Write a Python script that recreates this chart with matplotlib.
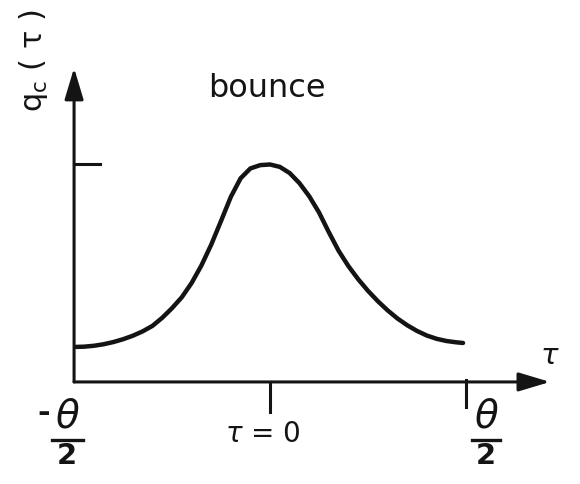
import matplotlib
matplotlib.use("Agg")
import matplotlib.pyplot as plt

plt.rcParams['font.family'] = ['DejaVu Sans']
plt.rcParams['mathtext.fontset'] = 'dejavusans'

# bounce profile q_c(tau), tau in units of theta/2, q normalised to its peak
tau = [-0.99, -0.95, -0.9, -0.85, -0.8, -0.75, -0.7, -0.65, -0.6, -0.55,
       -0.5, -0.45, -0.4, -0.35, -0.3, -0.25, -0.2, -0.15, -0.1, -0.05,
       0.0, 0.05, 0.1, 0.15, 0.2, 0.25, 0.3, 0.35, 0.4, 0.45,
       0.5, 0.55, 0.6, 0.65, 0.7, 0.75, 0.8, 0.85, 0.9, 0.95, 0.985]
q = [0.160, 0.161, 0.165, 0.172, 0.182, 0.195, 0.211, 0.231, 0.256, 0.293,
     0.337, 0.387, 0.452, 0.532, 0.627, 0.735, 0.845, 0.930, 0.975, 0.990,
     0.993, 0.982, 0.954, 0.908, 0.848, 0.774, 0.684, 0.599, 0.529, 0.469,
     0.416, 0.369, 0.327, 0.290, 0.259, 0.233, 0.212, 0.197, 0.187, 0.181, 0.178]
q_peak = max(q)
tau_ticks = [0.0, 1.0]

ink = '#141414'

fig = plt.figure(figsize=(5.8, 4.84), dpi=100)
ax = fig.add_axes([0, 0, 1, 1])
ax.set_xlim(-1.378, 1.582)
ax.set_ylim(-0.466, 1.744)
ax.axis('off')

# axes with arrow heads
arrow = dict(arrowstyle='-|>,head_length=1.2,head_width=0.36', mutation_scale=16,
             lw=2.2, color=ink, shrinkA=0, shrinkB=0)
ax.annotate('', xy=(-1.0, 1.434), xytext=(-1.0, 0.0), arrowprops=arrow)
ax.annotate('', xy=(1.429, 0.0), xytext=(-1.0, 0.0), arrowprops=arrow)

# ticks
ax.plot([-1.0, -0.867], [q_peak, q_peak], color=ink, lw=2.2)
ax.plot([tau_ticks[0]] * 2, [0, -0.137], color=ink, lw=2.2)
ax.plot([tau_ticks[1]] * 2, [0.01, -0.115], color=ink, lw=2.2)

# the bounce
ax.plot(tau, q, color=ink, lw=3.2, solid_capstyle='round', solid_joinstyle='round')

ax.text(-0.015, 1.301, 'bounce', fontsize=23, ha='center', va='baseline', color=ink)
ax.text(-1.209, 1.466, r'q$_{\mathrm{c}}$ ( τ )', fontsize=22, rotation=90,
        ha='center', va='center', color=ink)
ax.text(1.429, 0.119, r'$\tau$', fontsize=21, ha='center', va='center', color=ink)
ax.text(-0.036, -0.237, r'$\tau$ = 0', fontsize=20, ha='center', va='center', color=ink)

# -theta/2 and theta/2 under the axis
ax.text(-1.153, -0.142, '-', fontsize=22, fontweight='bold', ha='center',
        va='center', color=ink)
for xc, bar in [(-1.033, (-1.112, -0.954)), (1.107, (1.031, 1.173))]:
    ax.text(xc, -0.16, r'$\theta$', fontsize=28, ha='center', va='center', color=ink)
    ax.plot(bar, [-0.267, -0.267], color=ink, lw=2.4)
    ax.text(xc - 0.005, -0.338, '2', fontsize=21, fontweight='bold',
            ha='center', va='center', color=ink)

fig.savefig('out.png', dpi=100, facecolor='white')
